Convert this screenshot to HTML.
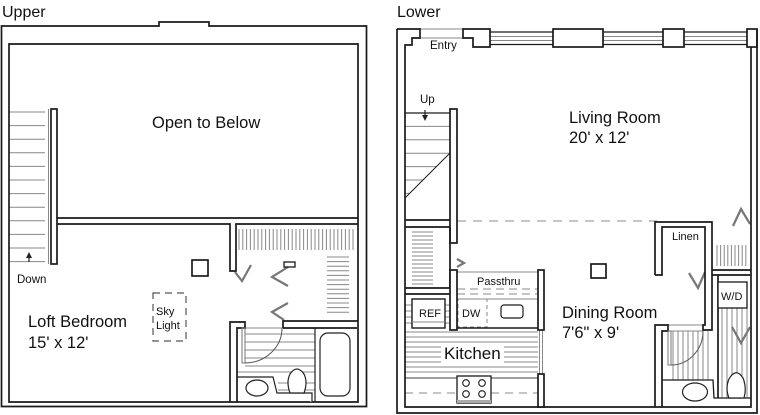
<!DOCTYPE html>
<html><head><meta charset="utf-8"><style>
html,body{margin:0;padding:0;background:#fff;}
svg{display:block;}
text{font-family:"Liberation Sans",sans-serif;fill:#111;}
</style></head><body>
<svg width="760" height="415" viewBox="0 0 760 415" xmlns="http://www.w3.org/2000/svg">
<rect width="760" height="415" fill="#fff"/>

<!-- ================= UPPER ================= -->
<text x="2" y="17" font-size="16">Upper</text>

<!-- gray details upper -->
<g fill="none" stroke="#888" stroke-width="1">
  <path d="M9,112H45M9,125.6H45M9,139.2H45M9,152.8H45M9,166.4H45M9,180H45M9,193.6H45M9,207.2H45M9,220.8H45M9,234.4H45M9,248H45M9,261.6H45"/>
  <path d="M48.5,109V264"/>
  <!-- closet hanging rods -->
  <path d="M239,229V250M242.8,229V250M246.6,229V250M250.4,229V250M254.2,229V250M258,229V250M261.8,229V250M265.6,229V250M269.4,229V250M273.2,229V250M277,229V250M280.8,229V250M284.6,229V250M288.4,229V250M292.2,229V250M296,229V250M299.8,229V250M303.6,229V250M307.4,229V250M311.2,229V250M315,229V250M318.8,229V250M322.6,229V250M326.4,229V250M330.2,229V250M334,229V250M337.8,229V250M341.6,229V250M345.4,229V250M349.2,229V250M353,229V250"/>
  <!-- shelves -->
  <path d="M327,257H349M327,261.6H349M327,266.2H349M327,270.8H349M327,275.4H349M327,280H349M327,284.6H349M327,289.2H349M327,293.8H349M327,298.4H349M327,303H349M327,307.6H349M327,312.2H349"/>
  <!-- bath tile lines -->
  <path d="M245,334H315M245,342H315M245,350H315M245,358H315M245,366H315M237,372H315M278,383H315M278,390H315"/>
  <path d="M245,328H283"/>
</g>

<!-- bifold doors upper -->
<g fill="none" stroke="#777" stroke-width="2.2" stroke-linejoin="miter">
  <polyline points="235,272 242,281 251,265"/>
  <polyline points="288,267 272,277 288,286"/>
  <polyline points="288,303 272,312 284,320"/>
</g>

<g fill="none" stroke="#1a1a1a" stroke-width="1.7">
  <path d="M1.5,26H159V22H209V26H366.5V406.5H1.5Z"/>
  <path d="M9,44H358V402H9Z"/>
  <rect x="51" y="109" width="6" height="155" fill="#fff"/>
  <path d="M57,218H358"/>
  <path d="M57,224H230V271H236V224H358"/>
  <!-- bath walls -->
  <path d="M230,402V322H245V328H237V402"/>
  <path d="M283,328V321H358"/>
  <path d="M283,328H357"/>
  <rect x="192" y="260" width="16" height="16"/>
  <rect x="284" y="262" width="11" height="5" stroke-width="1.3"/>
</g>

<g fill="none" stroke="#222" stroke-width="1.2">
  <!-- door -->
  <rect x="242" y="328" width="3" height="35" stroke="#777" stroke-width="1"/>
  <path d="M245,363A37,35 0 0 0 282,328" stroke="#555" stroke-width="1"/>
  <!-- tub -->
  <path d="M315,328V402"/>
  <rect x="320" y="333" width="30" height="63" rx="8"/>
  <!-- vanity -->
  <path d="M237,377H273L277,393H312V402" fill="#fff"/>
  <ellipse cx="257" cy="388" rx="11" ry="8" fill="#fff"/>
  <path d="M290,393Q286,382 290,374Q297,364 304,374Q308,382 304,393Z" fill="#fff"/>
  <!-- skylight -->
  <rect x="153" y="293" width="33" height="48" stroke="#555" stroke-dasharray="7,5"/>
  <!-- down arrow -->
  <path d="M29,262V255"/>
</g>
<path d="M29,252L26,258H32Z" fill="#222"/>

<text x="152" y="128" font-size="16.5">Open to Below</text>
<text x="28" y="327" font-size="16.5">Loft Bedroom</text>
<text x="28" y="348" font-size="16.5">15' x 12'</text>
<text x="17" y="283" font-size="11.5">Down</text>
<text x="156" y="315" font-size="11">Sky</text>
<text x="156" y="329" font-size="11">Light</text>

<!-- ================= LOWER ================= -->
<text x="397" y="17" font-size="16">Lower</text>

<g fill="none" stroke="#888" stroke-width="1">
  <!-- windows -->
  <path d="M490,36.5H553M490,40.5H553M603,36.5H663M603,40.5H663M684,36.5H747M684,40.5H747"/>
  <!-- entry threshold -->
  <path d="M420,29H463M420,38H463"/>
  <!-- stair treads -->
  <path d="M405,126.4H450M405,139.8H450M405,153.2H450M405,166.6H436.4M405,180H423M405,193.4H409.6"/>
  <!-- closet shelves -->
  <path d="M412,232H433M412,236H433M412,240H433M412,244H433M412,248H433M412,252H433M412,256H433M412,260H433M412,264H433M412,268H433M412,272H433M412,276H433M412,280H433M412,284H433"/>
  <!-- passthru -->
  <path d="M457,272H538"/>
  <path d="M457,289H538M457,294H538" stroke-dasharray="8,5"/>
  <path d="M457,299H538"/>
  <rect x="458" y="299" width="29" height="28" stroke-dasharray="4,3"/>
  <!-- ref side lines -->
  <path d="M405,305H412M405,311H412M405,317H412M405,323H412M445,305H450M445,311H450M445,317H450M445,323H450"/>
  <!-- kitchen lines -->
  <path d="M405,332H538M405,337H538M405,342H538M405,347H538M405,352H538M405,357H538M405,362H538M405,367H538M405,372H538"/>
  <path d="M405,393H457M491,393H538" stroke-dasharray="8,6"/>
  <path d="M539.5,330V374M542.5,330V374"/>
  <!-- right closet rods -->
  <path d="M717,245V266M720.6,245V266M724.2,245V266M727.8,245V266M731.4,245V266M735,245V266M738.6,245V266M742.2,245V266M745.8,245V266"/>
  <!-- bath lines lower -->
  <path d="M673,331V380M678,331V380M683,331V380M688,331V380M693,331V380M698,331V380M703,331V380M708,331V380M722,308V398M727,308V398M732,308V398M737,308V398M742,308V398M747,308V398"/>
  <path d="M668,325H703M668,331H703"/>
</g>
<!-- kitchen text bg -->
<rect x="441" y="343" width="63" height="20" fill="#fff"/>
<path d="M405,378H538" stroke="#666" stroke-width="1.2"/>

<!-- dashed open-to-above line -->
<path d="M457,221H657" stroke="#888" stroke-width="1" stroke-dasharray="9,7"/>

<!-- bifolds lower -->
<g fill="none" stroke="#777" stroke-width="2.2">
  <polyline points="457,259 464,263 457,267"/>
  <polyline points="689,273 698,288 705,272"/>
  <polyline points="733,226 741,209 750,224"/>
  <polyline points="732,327 741,343 750,327"/>
</g>

<g fill="none" stroke="#1a1a1a" stroke-width="1.7">
  <path d="M397,29V413H757V29"/>
  <path d="M397,29H420V38H412V45H405V407H751V47"/>
  <path d="M463,29H490V47H473V38H463Z"/>
  <rect x="553" y="29" width="50" height="18"/>
  <rect x="663" y="29" width="21" height="18"/>
  <rect x="747" y="29" width="10" height="18"/>
  <path d="M490,32H553M490,44.5H553M603,32H663M603,44.5H663M684,32H747M684,44.5H747" stroke-width="1.2"/>
  <!-- stairs -->
  <path d="M405,113H450" stroke-width="1.3"/>
  <path d="M450,153L405,198" stroke-width="1"/>
  <rect x="450" y="109" width="7" height="134" fill="#fff"/>
  <path d="M405,220H450M405,227H450M450,227V288M405,288H450M405,294H450"/>
  <!-- kitchen -->
  <rect x="450" y="270" width="7" height="60" fill="#fff"/>
  <rect x="538" y="270" width="6" height="60" fill="#fff"/>
  <rect x="538" y="374" width="6" height="33" fill="#fff"/>
  <path d="M457,328H538" stroke-width="1.4"/>
  <rect x="412" y="299" width="33" height="29" fill="#fff" stroke-width="1.4"/>
  <path d="M412,322H445" stroke="#888" stroke-width="1"/>
  <rect x="501" y="305" width="22" height="13" rx="3" stroke-width="1.2"/>
  <rect x="457" y="376" width="34" height="27" fill="#fff" stroke-width="1.3"/>
  <rect x="457" y="400" width="34" height="3" fill="#aaa" stroke="none"/>
  <circle cx="466" cy="383" r="3.3" stroke-width="1.1"/>
  <circle cx="482" cy="383" r="3.3" stroke-width="1.1"/>
  <circle cx="466" cy="394" r="3.3" stroke-width="1.1"/>
  <circle cx="482" cy="394" r="3.3" stroke-width="1.1"/>
  <!-- dining -->
  <rect x="591" y="264" width="15" height="14"/>
  <!-- linen -->
  <path d="M655,275V222H712V330H703V325H705V227H662V275H655"/>
  <!-- right closet / W/D -->
  <path d="M712,270H751M712,275H751M718,275V398"/>
  <rect x="718" y="282" width="29" height="26" fill="#fff" stroke-width="1.3"/>
  <!-- lower bath -->
  <path d="M655,407V325H668V331H662V407"/>
  <path d="M662,380H713L714,398H751" stroke-width="1.3"/>
</g>
<g fill="none" stroke="#222" stroke-width="1.2">
  <rect x="668" y="331" width="3" height="34" stroke="#777" stroke-width="1"/>
  <path d="M671,365A32,34 0 0 0 703,331" stroke="#555" stroke-width="1"/>
  <ellipse cx="695" cy="392" rx="12.5" ry="9" fill="#fff"/>
  <path d="M729,398Q725,388 729,379Q736,367 743,378Q747,388 744,398Z" fill="#fff"/>
  <path d="M425,110V117"/>
</g>
<path d="M425,121L422,115H428Z" fill="#222"/>

<text x="430" y="49" font-size="11.5">Entry</text>
<text x="420" y="103" font-size="11.5">Up</text>
<text x="569" y="123" font-size="16.5">Living Room</text>
<text x="569" y="143" font-size="16.5">20' x 12'</text>
<text x="477" y="285" font-size="11">Passthru</text>
<text x="419" y="317" font-size="11">REF</text>
<text x="462" y="317" font-size="11">DW</text>
<text x="444" y="359" font-size="17">Kitchen</text>
<text x="562" y="318" font-size="16.5">Dining Room</text>
<text x="562" y="338" font-size="16.5">7'6" x 9'</text>
<text x="672" y="240" font-size="11">Linen</text>
<text x="721" y="300" font-size="11">W/D</text>
</svg>
</body></html>
